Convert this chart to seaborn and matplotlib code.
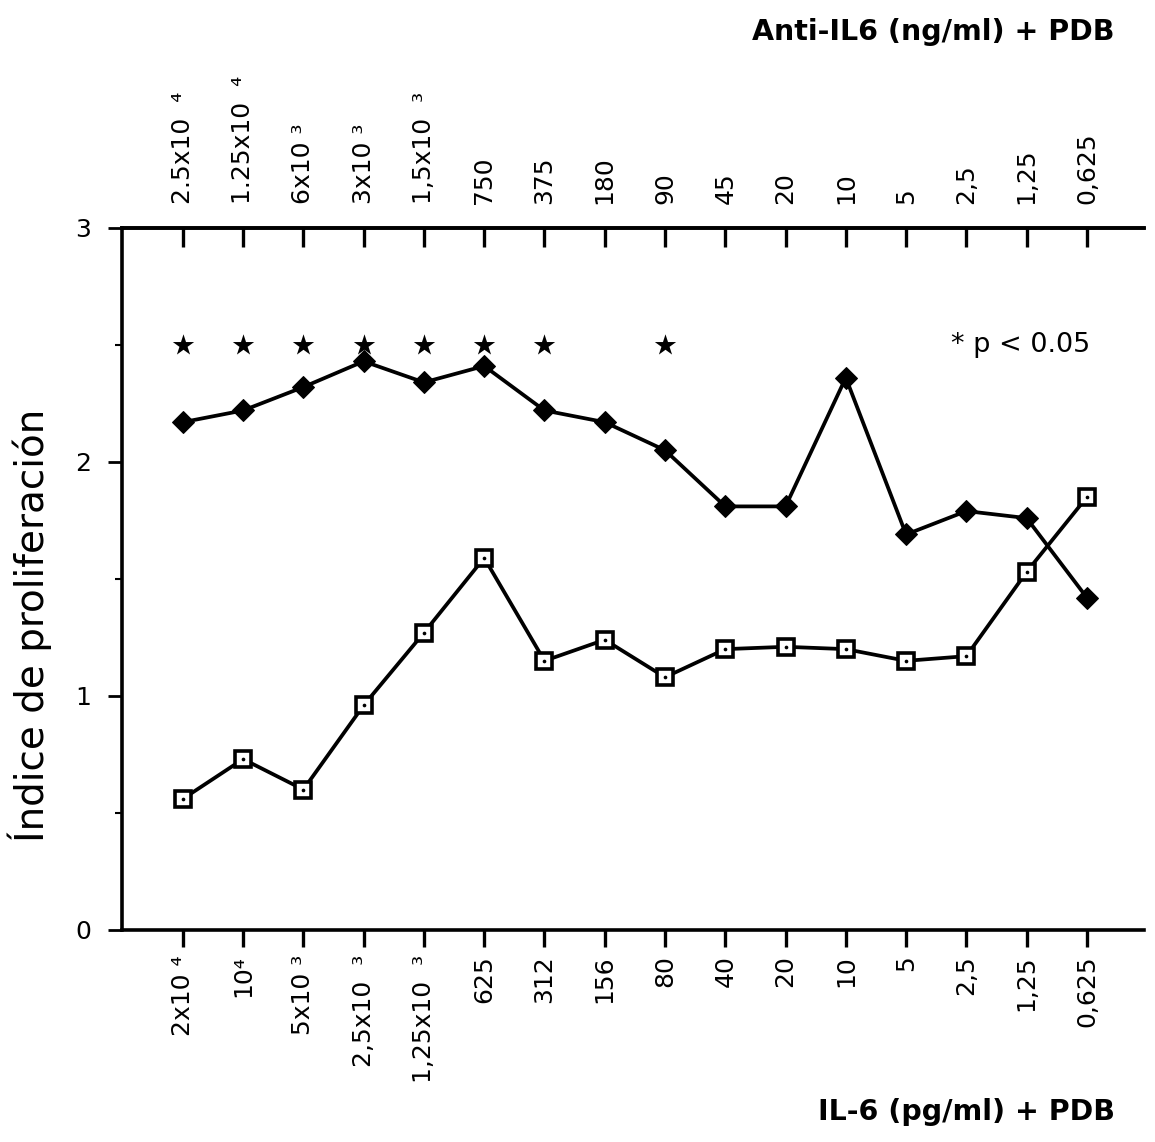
import matplotlib
matplotlib.use("Agg")
import matplotlib.pyplot as plt
import seaborn as sns
import pandas as pd
import numpy as np
from matplotlib.ticker import MultipleLocator

# IL-6 concentrations (pg/ml) on the bottom axis
il6_labels = ["2x10 ⁴", "10⁴", "5x10 ³", "2,5x10  ³", "1,25x10  ³", "625", "312",
              "156", "80", "40", "20", "10", "5", "2,5", "1,25", "0,625"]
# anti-IL6 concentrations (ng/ml) on the top axis
anti_labels = ["2.5x10  ⁴", "1.25x10  ⁴", "6x10 ³", "3x10 ³", "1,5x10  ³", "750", "375",
               "180", "90", "45", "20", "10", "5", "2,5", "1,25", "0,625"]

# proliferation index with anti-IL6 + PDB (filled diamonds)
anti_il6 = [2.17, 2.22, 2.32, 2.43, 2.34, 2.41, 2.22, 2.17, 2.05, 1.81, 1.81,
            2.36, 1.69, 1.79, 1.76, 1.42]
# proliferation index with IL-6 + PDB (open squares)
il6 = [0.56, 0.73, 0.60, 0.96, 1.27, 1.59, 1.15, 1.24, 1.08, 1.20, 1.21,
       1.20, 1.15, 1.17, 1.53, 1.85]

# points with p < 0.05
sig_idx = [0, 1, 2, 3, 4, 5, 6, 8]
sig_level = 2.5

sns.set_theme(style="white")
plt.rcParams["font.family"] = ["DejaVu Sans"]
plt.rcParams["text.color"] = "black"
plt.rcParams["xtick.color"] = "black"
plt.rcParams["ytick.color"] = "black"
plt.rcParams["axes.labelcolor"] = "black"

pos = np.arange(len(il6_labels))
df = pd.DataFrame({"pos": pos, "anti": anti_il6, "il6": il6})
sig = pd.DataFrame({"pos": sig_idx, "y": [sig_level] * len(sig_idx)})

fig = plt.figure(figsize=(11.55, 11.42), dpi=100)
ax = fig.add_axes([0.1056, 0.1857, 0.885, 0.6147])

sns.lineplot(data=df, x="pos", y="anti", ax=ax, color="black", linewidth=2.7,
             marker="D", markersize=11, markerfacecolor="black",
             markeredgecolor="black", zorder=3)
sns.lineplot(data=df, x="pos", y="il6", ax=ax, color="black", linewidth=2.7,
             marker="s", markersize=12, markerfacecolor="white",
             markeredgecolor="black", markeredgewidth=2.6, zorder=3)
sns.scatterplot(data=df, x="pos", y="il6", ax=ax, color="black", marker="o",
                s=7, linewidth=0, zorder=4)
sns.scatterplot(data=sig, x="pos", y="y", ax=ax, color="black", marker="*",
                s=260, linewidth=0, zorder=4)

ax.text(15.05, sig_level, "* p < 0.05", ha="right", va="center", fontsize=19.5)

ax.set_xlim(-1.01, 15.95)
ax.set_ylim(0, 3)

ax.spines["right"].set_visible(False)
for s in ["left", "bottom", "top"]:
    ax.spines[s].set_color("black")
    ax.spines[s].set_linewidth(2.6)

ax.set_xticks(pos)
ax.set_xticklabels(il6_labels, rotation=90, fontsize=18)
ax.tick_params(axis="x", direction="out", length=12, width=2.4, pad=6,
               bottom=True)
ax.set_yticks([0, 1, 2, 3])
ax.set_yticklabels(["0", "1", "2", "3"], fontsize=18)
ax.yaxis.set_minor_locator(MultipleLocator(0.5))
ax.tick_params(axis="y", which="major", direction="out", length=10, width=2,
               pad=12, left=True)
ax.tick_params(axis="y", which="minor", direction="out", length=5, width=1.5,
               left=True)
ax.set_xlabel("")
ax.set_ylabel("")

top = ax.twiny()
top.set_xlim(ax.get_xlim())
top.set_xticks(pos)
top.set_xticklabels(anti_labels, rotation=90, fontsize=18)
top.tick_params(axis="x", direction="in", length=14, width=2.4, pad=17,
                top=True)
for s in ["right", "left", "bottom"]:
    top.spines[s].set_visible(False)
top.spines["top"].set_linewidth(2.6)
top.spines["top"].set_color("black")

fig.text(0.026, 0.452, "Índice de proliferación", rotation=90, ha="center",
         va="center", fontsize=28)
fig.text(0.965, 0.972, "Anti-IL6 (ng/ml) + PDB", ha="right", va="center",
         fontsize=20.5, fontweight="bold")
fig.text(0.965, 0.026, "IL-6 (pg/ml) + PDB", ha="right", va="center",
         fontsize=20.5, fontweight="bold")

fig.savefig("out.png", dpi=100)
